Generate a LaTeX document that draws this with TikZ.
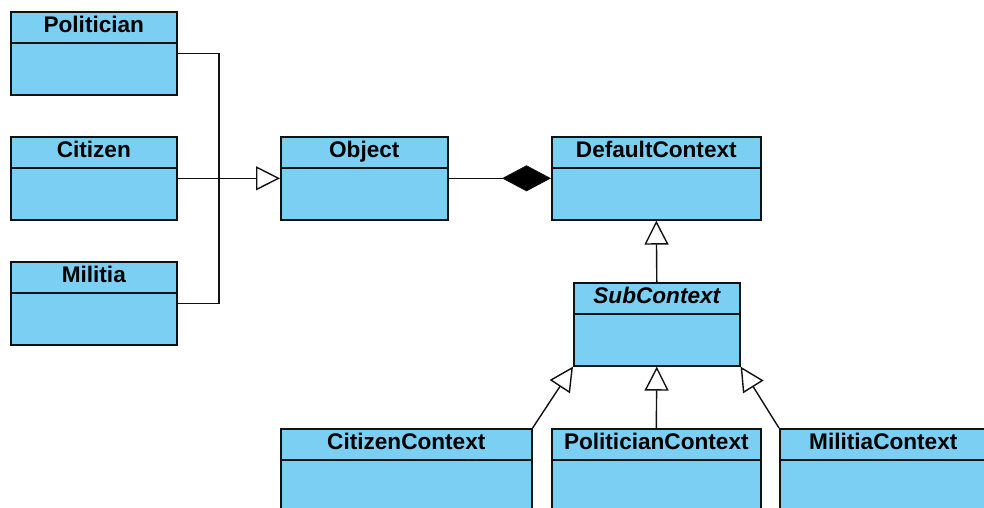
\documentclass[tikz,border=0pt]{standalone}
\usepackage{fontspec}
\setmainfont{Liberation Sans}
\usetikzlibrary{arrows.meta,calc}
\definecolor{classfill}{HTML}{7BCFF3}
\definecolor{edge}{HTML}{111111}
\tikzset{
  classbox/.style={draw=edge, fill=classfill, line width=1.6pt, rectangle, inner sep=0pt, anchor=north west},
  divider/.style={draw=edge, line width=1.4pt},
  classname/.style={font=\fontsize{22.6}{25}\selectfont\bfseries, inner sep=0pt, text=black, anchor=base},
  link/.style={draw=edge, line width=1.4pt},
  gen/.style={link, -{Triangle[fill=white, length=24pt, width=24pt, line width=1.4pt]}, line join=miter},
  comp/.style={link, -{Diamond[fill=black, length=49pt, width=26pt, line width=1pt]}}
}
% \umlclass{name}{x}{y}{width}{height}{title}
\newcommand\umlclass[6]{%
  \node[classbox, minimum width=#4pt, minimum height=#5pt] (#1) at (#2,#3) {};
  \draw[divider] ([yshift=-32pt]#1.north west) -- ([yshift=-32pt]#1.north east);
  \node[classname] (#1-title) at ([yshift=-21.8pt]#1.north) {#6};
}
\begin{document}
\begin{tikzpicture}[x=1pt, y=-1pt]
  \useasboundingbox (0,0) rectangle (984,507);
  \clip (0,0) rectangle (984,507);
  \fill[white] (0,0) rectangle (984,507);

  % left column of concrete classes
  \umlclass{pol}{10}{11}{166}{83}{Politician}
  \umlclass{cit}{10}{136}{166}{83}{Citizen}
  \umlclass{mil}{10}{261}{166}{83}{Militia}

  % core classes
  \umlclass{obj}{280}{136}{167}{83}{Object}
  \umlclass{dc}{551}{136}{209}{83}{DefaultContext}
  \umlclass{sub}{573}{282}{166}{83}{\itshape SubContext}

  % context subclasses (run past the lower edge)
  \umlclass{cc}{280}{428}{251}{100}{CitizenContext}
  \umlclass{pc}{551}{428}{209}{100}{PoliticianContext}
  \umlclass{mc}{779}{428}{207}{100}{MilitiaContext}

  % generalisation of the left classes into Object
  \coordinate (jn) at (219,177.5);
  \draw[link] (pol.east) -| (jn);
  \draw[link] (mil.east) -| (jn);
  \draw[gen] (cit.east) -- (obj.west);

  % composition Object -> DefaultContext
  \draw[comp] (obj.east) -- (dc.west);

  % SubContext hierarchy
  \draw[gen] (sub.north) -- (dc.south);
  \draw[gen] (pc.north) -- (sub.south);
  \draw[gen] (cc.north east) -- (sub.south west);
  \draw[gen] (mc.north west) -- (sub.south east);
\end{tikzpicture}
\end{document}
